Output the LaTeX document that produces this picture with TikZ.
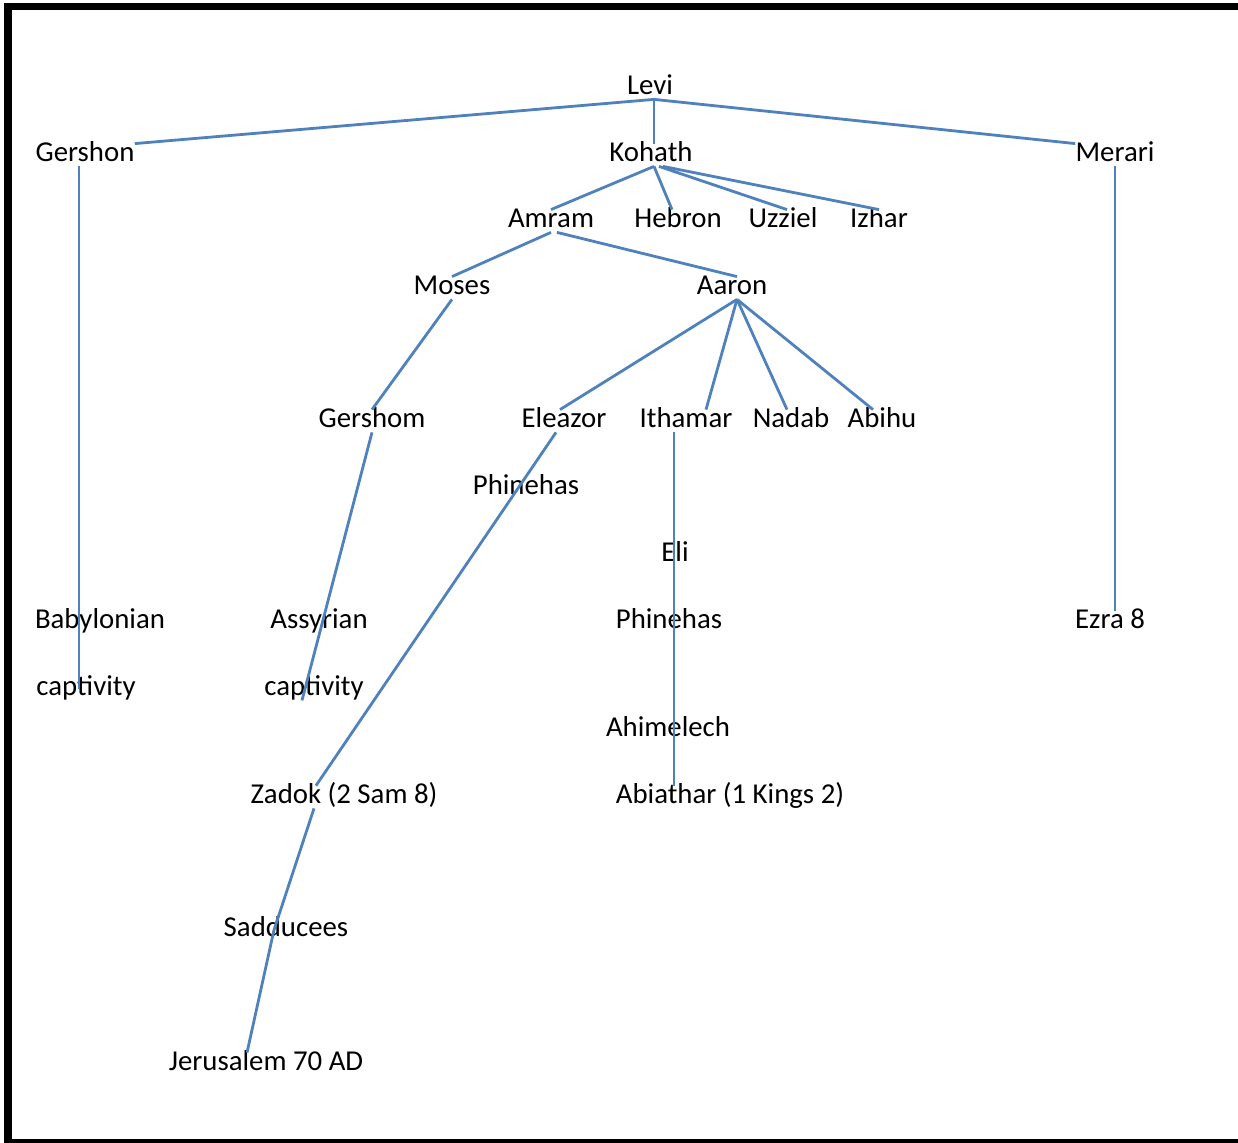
\documentclass[tikz,border=0pt]{standalone}
\usepackage{fontspec}
\setmainfont{Carlito}
\usepackage{tikz}
\definecolor{linkblue}{HTML}{4F81BD}

\begin{document}
\begin{tikzpicture}[x=0.5pt, y=-0.5pt,
    person/.style={inner sep=0pt, anchor=base, text height=9pt, text depth=2pt,
                   font=\fontsize{14.4}{17}\selectfont},
    link/.style={draw=linkblue, line width=1.4pt}]
    \useasboundingbox (0,0) rectangle (1238,1143);

    % frame
    \fill[black] (4,3) rectangle (1238,10);
    \fill[black] (4,3) rectangle (12,1143);
    \fill[black] (4,1139) rectangle (1238,1143);

    % Levi and sons
    \node[person] (levi) at (650,95) {Levi};
    \node[person] (gershon) at (85,162) {Gershon};
    \node[person] (kohath) at (651,162) {Kohath};
    \node[person] (merari) at (1115,162) {Merari};
    \node[person] (amram) at (551,228) {Amram};
    \node[person] (hebron) at (678,228) {Hebron};
    \node[person] (uzziel) at (783,228) {Uzziel};
    \node[person] (izhar) at (879,228) {Izhar};
    \node[person] (moses) at (452,295) {Moses};
    \node[person] (aaron) at (732,295) {Aaron};
    \node[person] (gershom) at (372,428) {Gershom};
    \node[person] (eleazor) at (564,428) {Eleazor};
    \node[person] (ithamar) at (686,428) {Ithamar};
    \node[person] (nadab) at (791,428) {Nadab};
    \node[person] (abihu) at (882,428) {Abihu};

    % later lines
    \node[person] (phinehasA) at (526,495) {Phinehas};
    \node[person] (eli) at (675,562) {Eli};
    \node[person] (babylon) at (100,629) {Babylonian};
    \node[person] (assyria) at (319,629) {Assyrian};
    \node[person] (phinehasB) at (669,629) {Phinehas};
    \node[person] (ezra) at (1110,629) {Ezra 8};
    \node[person] (captA) at (86,696) {captivity};
    \node[person] (captB) at (314,696) {captivity};
    \node[person] (ahimelech) at (668,737) {Ahimelech};
    \node[person] (zadok) at (344,804) {Zadok (2 Sam 8)};
    \node[person] (abiathar) at (730,804) {Abiathar (1 Kings 2)};
    \node[person] (sadducees) at (286,937) {Sadducees};
    \node[person] (jerusalem) at (266,1071) {Jerusalem 70 AD};

    % links
    \draw[link] ([xshift=2pt]levi.south) -- (gershon.north east);
    \draw[link] ([xshift=2pt]levi.south) -- ([xshift=1.5pt]kohath.north);
    \draw[link] ([xshift=2pt]levi.south) -- (merari.north west);
    \draw[link] ([xshift=1.5pt]kohath.south) -- (amram.north);
    \draw[link] ([xshift=1.5pt]kohath.south) -- ([xshift=-3pt]hebron.north);
    \draw[link] ([xshift=4pt]kohath.south) -- ([xshift=2pt]uzziel.north);
    \draw[link] ([xshift=6pt]kohath.south) -- (izhar.north);
    \draw[link] (amram.south) -- (moses.north);
    \draw[link] ([xshift=3pt]amram.south) -- ([xshift=2.5pt]aaron.north);
    \draw[link] (moses.south) -- (gershom.north);
    \draw[link] ([xshift=2.5pt]aaron.south) -- ([xshift=-2pt]eleazor.north);
    \draw[link] ([xshift=2.5pt]aaron.south) -- ([xshift=10pt]ithamar.north);
    \draw[link] ([xshift=2.5pt]aaron.south) -- ([xshift=-2pt]nadab.north);
    \draw[link] ([xshift=2.5pt]aaron.south) -- ([xshift=-4.5pt]abihu.north);
    \draw[link] ([xshift=-4pt]eleazor.south) -- ([xshift=-14pt]zadok.north);
    \draw[link] ([xshift=-6pt]ithamar.south) -- ([xshift=-28pt]abiathar.north);
    \draw[link] ([xshift=-3pt]gershon.south) -- ([xshift=-3.5pt]captA.center);
    \draw[link] (gershom.south) -- ([xshift=-6pt]captB.south);
    \draw[link] (merari.south) -- (merari.south |- ezra.north);
    \draw[link] ([xshift=-15pt]zadok.south) -- ([xshift=-6pt]sadducees.center)
        -- ([xshift=-9.5pt]jerusalem.north);
\end{tikzpicture}
\end{document}
